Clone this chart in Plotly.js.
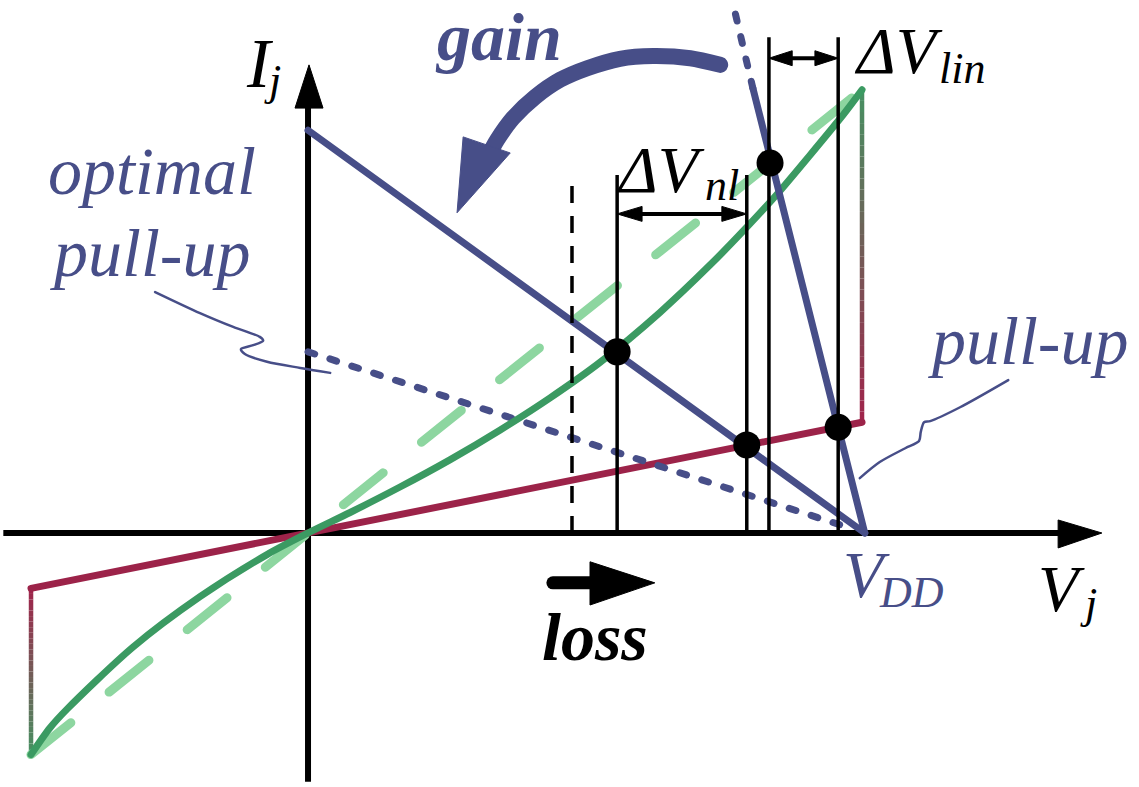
<!DOCTYPE html>
<html>
<head>
<meta charset="utf-8">
<script src="https://cdn.plot.ly/plotly-3.0.1.min.js"></script>
<style>html,body{margin:0;padding:0;background:#fff;}#chart{width:1139px;height:787px;}</style>
</head>
<body>
<div id="chart"></div>
<script>
// ---------- data (V normalised to VDD = 1, I in the same units) ----------
const pullDownV = [0, 1.005];
const pullDownI = [0.727, 0];
const pullUpV = [1.005, 0.803];
const pullUpI = [0, 0.803];
const pullUpExtV = [0.803, 0.771];
const pullUpExtI = [0.803, 0.939];
const optimalV = [0, 0.975];
const optimalI = [0.327, 0.010];
const redV = [-0.5, 1.0];
const redI = [-0.1, 0.2];
const linearV = [-0.5, 1.0];
const linearI = [-0.4, 0.8];
const greenV = [-0.5, -0.466, -0.435, -0.316, -0.195, -0.074, 0, 0.076, 0.166, 0.256, 0.347, 0.437, 0.527, 0.635, 0.726, 0.792, 0.847, 0.906, 0.966, 1.0];
const greenI = [-0.4, -0.352, -0.318, -0.206, -0.115, -0.039, 0, 0.037, 0.083, 0.132, 0.186, 0.244, 0.308, 0.398, 0.484, 0.552, 0.612, 0.682, 0.755, 0.8];
const dotV = [0.558, 0.792, 0.834, 0.957];
const dotI = [0.327, 0.159, 0.668, 0.191];
const markerV = [0.4765, 0.558, 0.792, 0.832, 0.957];
const markerTop = [0.646, 0.646, 0.646, 0.895, 0.895];
const markerDash = ['17px,13px', 'solid', 'solid', 'solid', 'solid'];
const dvNlV = [0.558, 0.792];
const dvNlI = 0.576;
const dvLinV = [0.832, 0.957];
const dvLinI = 0.857;
const gainArcV = [0.744, 0.690, 0.623, 0.563, 0.504, 0.455, 0.410, 0.370, 0.341, 0.333];
const gainArcI = [0.845, 0.857, 0.861, 0.856, 0.839, 0.818, 0.787, 0.749, 0.709, 0.695];
const gainHeadV = [0.280, 0.365, 0.269];
const gainHeadI = [0.715, 0.686, 0.578];
const lossV = [0.442, 0.527];
const lossI = [-0.090, -0.090];
const lossHeadV = [0.509, 0.509, 0.626];
const lossHeadI = [-0.052, -0.130, -0.090];
const leaderLeftV = [-0.276, -0.195, -0.135, -0.087, -0.081, -0.099, -0.121, -0.114, -0.074, -0.014, 0.040];
const leaderLeftI = [0.435, 0.397, 0.372, 0.354, 0.347, 0.339, 0.332, 0.323, 0.309, 0.298, 0.289];
const leaderRightV = [1.264, 1.177, 1.123, 1.112, 1.106, 1.103, 1.078, 1.032, 0.996];
const leaderRightI = [0.276, 0.227, 0.202, 0.200, 0.182, 0.166, 0.153, 0.128, 0.099];
const axisV = [-0.55, 1.36];
const axisI = [-0.449, 0.78];
const axisHeadXV = [1.354, 1.354, 1.433];
const axisHeadXI = [0.0235, -0.027, 0];
const axisHeadYV = [-0.0235, 0.0271, 0.0018];
const axisHeadYI = [0.767, 0.767, 0.845];
const gradRightV = 1.0, gradRightI = [0.199, 0.8];
const gradLeftV = -0.5, gradLeftI = [-0.1, -0.4];

// ---------- style ----------
const NAVY = '#474e88', RED = '#9c2349', GREEN = '#3b9a62', LGREEN = '#8dd6a0';
const FONT = 'Liberation Serif';
const traces = [];
function line(x, y, color, width, dash, shape, round) {
  traces.push({x: x, y: y, mode: 'lines', hoverinfo: 'skip', name: round ? 'round' : 'flat',
    line: {color: color, width: width, dash: dash || 'solid', shape: shape || 'linear', smoothing: 0.8}});
}
function tri(x, y, color) {
  traces.push({x: x.concat([x[0]]), y: y.concat([y[0]]), mode: 'lines', fill: 'toself', name: 'flat',
    fillcolor: color, line: {color: color, width: 1}, hoverinfo: 'skip'});
}

// axes
line(axisV, [0, 0], '#000', 6);
line([0, 0], axisI, '#000', 6);
tri(axisHeadXV, axisHeadXI, '#000');
tri(axisHeadYV, axisHeadYI, '#000');

// curves
line(linearV, linearI, LGREEN, 9, '51px,49px', 'linear', true);
line(redV, redI, RED, 7, 'solid', 'linear', true);
line(optimalV, optimalI, NAVY, 7, '7px,16px', 'linear', true);
line(greenV, greenI, GREEN, 7, 'solid', 'spline', true);
line(pullDownV, pullDownI, NAVY, 7, 'solid', 'linear', true);
line(pullUpV, pullUpI, NAVY, 7, 'solid', 'linear', true);
line(pullUpExtV, pullUpExtI, NAVY, 7, '7px,16px', 'linear', true);

// vertical marker lines
markerV.forEach((v, k) => line([v, v], [0, markerTop[k]], '#000', 3.5, markerDash[k]));

// double arrows
function dblArrow(xs, y, len, hw) {
  line([xs[0] + len * 0.8, xs[1] - len * 0.8], [y, y], '#000', 4);
  tri([xs[0], xs[0] + len, xs[0] + len], [y, y + hw, y - hw], '#000');
  tri([xs[1], xs[1] - len, xs[1] - len], [y, y + hw, y - hw], '#000');
}
dblArrow(dvNlV, dvNlI, 0.045, 0.0135);
dblArrow(dvLinV, dvLinI, 0.042, 0.0135);

// gain arrow
line(gainArcV, gainArcI, NAVY, 16, 'solid', 'spline', true);
tri(gainHeadV, gainHeadI, NAVY);
// loss arrow
line(lossV, lossI, '#000', 13, 'solid', 'linear', true);
tri(lossHeadV, lossHeadI, '#000');

// leaders
line(leaderLeftV, leaderLeftI, NAVY, 2.5, 'solid', 'spline', true);
line(leaderRightV, leaderRightI, NAVY, 2.5, 'solid', 'spline', true);

// dots
traces.push({x: dotV, y: dotI, mode: 'markers', hoverinfo: 'skip', name: 'flat',
  marker: {color: '#000', size: 27, line: {width: 0}}});

// gradient (red -> green) connectors
const shapes = [];
function gradient(x, y0, y1, c0, c1) {
  const n = 30;
  for (let k = 0; k < n; k++) {
    const t = (k + 0.5) / n;
    const c = c0.map((a, j) => Math.round(a + (c1[j] - a) * t));
    shapes.push({type: 'line', xref: 'x', yref: 'y', layer: 'below',
      x0: x, x1: x, y0: y0 + (y1 - y0) * k / n, y1: y0 + (y1 - y0) * (k + 1) / n,
      line: {color: 'rgb(' + c.join(',') + ')', width: 4.5}});
  }
}
const cRed = [160, 35, 75], cGreen = [70, 145, 98];
gradient(gradRightV, gradRightI[0], gradRightI[1], cRed, cGreen);
gradient(gradLeftV, gradLeftI[0], gradLeftI[1], cRed, cGreen);

// text
function txt(s, x, y, size, color, opts) {
  opts = opts || {};
  return {text: s, x: x, y: y, xref: 'x', yref: 'y', showarrow: false,
    xanchor: opts.xanchor || 'center', yanchor: 'middle',
    font: {family: FONT, size: size, color: color, style: 'italic', weight: opts.bold ? 'bold' : 'normal'}};
}
const annotations = [
  txt('I', -0.0866, 0.8477, 70, '#000'),
  txt('j', -0.065, 0.8177, 44, '#000'),
  txt('gain', 0.343, 0.895, 68, NAVY, {bold: true}),
  txt('optimal', -0.2816, 0.654, 68, NAVY),
  txt('pull-up', -0.285, 0.5047, 68, NAVY),
  txt('pull-up', 1.2996, 0.3458, 68, NAVY),
  txt('ΔV', 0.6354, 0.6558, 66, '#000'),
  txt('nl', 0.748, 0.628, 44, '#000'),
  txt('ΔV', 1.065, 0.8706, 66, '#000'),
  txt('lin', 1.1796, 0.839, 44, '#000'),
  txt('V', 1.009, -0.0753, 66, NAVY),
  txt('DD', 1.0894, -0.1069, 44, NAVY),
  txt('V', 1.36, -0.1002, 66, '#000'),
  txt('j', 1.408, -0.1264, 44, '#000'),
  txt('loss', 0.518, -0.1877, 68, '#000', {bold: true})
];

const layout = {
  width: 1139, height: 787, margin: {l: 0, r: 0, t: 0, b: 0},
  paper_bgcolor: '#fff', plot_bgcolor: '#fff', showlegend: false,
  xaxis: {range: [-0.556, 1.5], visible: false, fixedrange: true},
  yaxis: {range: [-0.4585, 0.9621], visible: false, fixedrange: true},
  shapes: shapes, annotations: annotations, hovermode: false
};
Plotly.newPlot('chart', traces, layout, {staticPlot: true, displayModeBar: false}).then(gd => {
  // round line caps, as in the reference drawing
  gd.querySelectorAll('.scatterlayer .trace').forEach((g, k) => {
    if (traces[k] && traces[k].name === 'round') {
      g.querySelectorAll('path.js-line').forEach(p => { p.style.strokeLinecap = 'round'; p.style.strokeLinejoin = 'round'; });
    }
  });
});
</script>
</body>
</html>
